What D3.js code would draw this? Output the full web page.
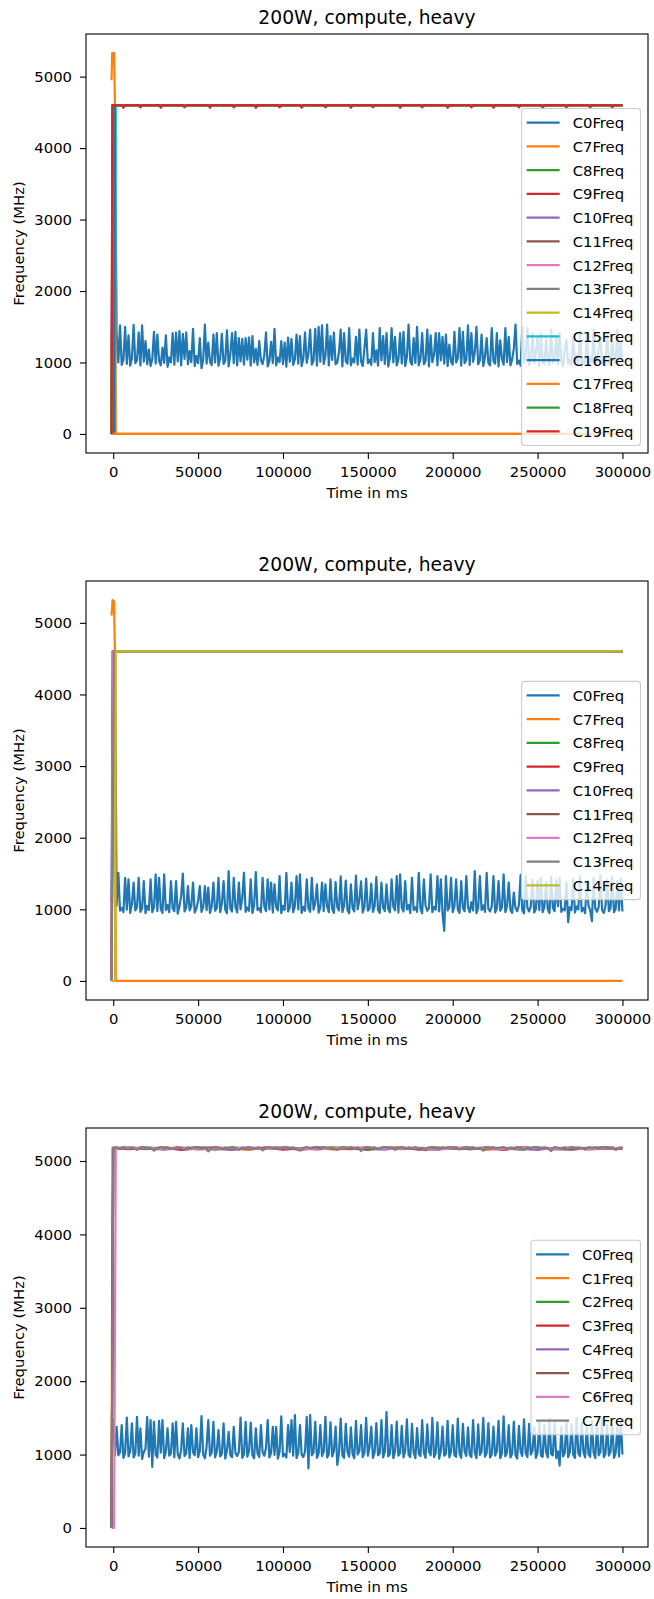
<!DOCTYPE html>
<html>
<head>
<meta charset="utf-8">
<script src="https://cdnjs.cloudflare.com/ajax/libs/d3/7.8.5/d3.min.js"></script>
<style>
  body { margin: 0; background: #fff; }
  svg { display: block; }
  text { font-family: "DejaVu Sans", sans-serif; fill: #000; }
</style>
</head>
<body>
<svg id="fig" width="654" height="1599"></svg>
<script>
// ---------- shared chart text and ticks ----------
const titleText = "200W, compute, heavy";
const xLabelText = "Time in ms";
const yLabelText = "Frequency (MHz)";
const xTicks = [0, 50000, 100000, 150000, 200000, 250000, 300000];
const yTicks = [0, 1000, 2000, 3000, 4000, 5000];
const SAMPLE_MS = 1000;          // logger sampling interval for the C0 trace
const GREY_SAMPLE_MS = 2000;     // sampling of the thinned C7 trace in run 3
const SPARSE_SAMPLE_MS = 10000;  // sampling of thinned traces C1..C6 in run 3

// ---------- run 1 : cores C0, C7..C19 ----------
const run1Cores = ["C0Freq","C7Freq","C8Freq","C9Freq","C10Freq","C11Freq","C12Freq","C13Freq","C14Freq","C15Freq","C16Freq","C17Freq","C18Freq","C19Freq"];
const run1C0Head = [[-1000, 1100], [0, 4600], [1000, 4600]];
const run1C0 = [ // t = 2000 .. 300000 ms
  1410,1000,1520,965,1040,1500,980,1380,955,1060,
  1525,990,1030,1420,960,1520,1010,1300,975,1180,
  950,1045,1430,985,1390,1020,960,1210,995,1380,
  940,1070,1000,1410,970,1420,1015,1440,960,1400,
  1050,1420,975,1160,1005,1470,950,1090,990,1340,
  920,1035,1530,985,1280,1010,965,1390,1000,1410,
  955,1060,1400,980,1025,1450,945,1120,1410,990,
  1430,960,1340,1015,1330,970,1340,1040,1350,955,
  1370,1000,1190,965,1300,1030,980,1100,1420,945,
  1020,1290,990,1470,960,1070,1005,1300,975,1280,
  940,1350,1010,1330,965,1045,1390,985,1370,950,
  1060,1420,995,1130,1460,970,1025,1470,955,1500,
  1010,1520,980,1090,1530,960,1370,1035,1420,975,
  1000,1150,1460,945,1410,1020,985,1480,960,1055,
  1000,1360,970,1460,1015,950,1200,1460,990,1040,
  965,1410,1005,1170,955,1480,1030,1370,980,1410,
  945,1065,1480,1000,1360,960,1040,1410,985,1430,
  950,1080,1530,1010,970,1340,995,1500,960,1050,
  1410,975,1020,1460,945,1380,1005,1110,1410,960,
  1410,1030,1360,985,1390,950,1250,1015,970,1430,
  1000,1060,1480,955,1430,990,1040,1520,965,1410,
  1010,1140,1500,975,1030,1390,950,1075,1340,995,
  960,1480,1020,985,1410,945,1310,1050,970,1480,
  1005,1360,960,1040,1190,1530,980,1025,955,1500,
  1000,1090,1480,965,1035,1410,990,1150,1360,950,
  1410,1015,975,1320,1045,960,1460,995,1060,1360,
  970,1410,1020,950,1180,1320,985,1040,960,1360,
  1005,1100,975,1430,945,1030,990,1410,960,1070,
  1000,1460,965,1020,1200,1360,980,1045,955,1410,
  1010,970,1360,1035,985,1460,960,1300,1000
];
const run1C7 = [[-1000, 4950], [-600, 5330], [500, 5330], [1000, 4600], [1500, 0], [300000, 0]];
const run1C8 = [[-1000, 0], [0, 4600], [300000, 4600]];
const run1C9 = [[-1000, 0], [-500, 4600], [300000, 4600]];
const run1C10 = [[-1000, 0], [0, 4600], [300000, 4600]];
const run1C11 = [[-1000, 0], [0, 4600], [300000, 4600]];
const run1C12 = [[-1000, 0], [0, 4600], [300000, 4600]];
const run1C13 = [[-1000, 0], [500, 0], [1000, 4600], [300000, 4600]];
const run1C14 = [[-1000, 0], [0, 4600], [300000, 4600]];
const run1C15 = [[-1000, 0], [1000, 0], [1500, 4600], [300000, 4600]];
const run1C16 = [[-1000, 0], [500, 0], [1000, 4600], [300000, 4600]];
const run1C17 = [[-1000, 0], [300000, 0]];
const run1C18 = [[-1000, 0], [0, 4600], [300000, 4600]];
const run1C19 = [
  [-1000, 0], [-500, 4600],
  [5000, 4600], [6000, 4565], [7000, 4600],
  [15000, 4600], [16000, 4570], [17000, 4600],
  [27000, 4600], [28000, 4565], [29000, 4600],
  [41000, 4600], [42000, 4570], [43000, 4600],
  [56000, 4600], [57000, 4565], [58000, 4600],
  [70000, 4600], [71000, 4570], [72000, 4600],
  [83000, 4600], [84000, 4565], [85000, 4600],
  [97000, 4600], [98000, 4570], [99000, 4600],
  [110000, 4600], [111000, 4565], [112000, 4600],
  [124000, 4600], [125000, 4570], [126000, 4600],
  [139000, 4600], [140000, 4565], [141000, 4600],
  [152000, 4600], [153000, 4570], [154000, 4600],
  [168000, 4600], [169000, 4565], [170000, 4600],
  [181000, 4600], [182000, 4570], [183000, 4600],
  [196000, 4600], [197000, 4565], [198000, 4600],
  [210000, 4600], [211000, 4570], [212000, 4600],
  [223000, 4600], [224000, 4565], [225000, 4600],
  [238000, 4600], [239000, 4570], [240000, 4600],
  [252000, 4600], [253000, 4565], [254000, 4600],
  [266000, 4600], [267000, 4570], [268000, 4600],
  [280000, 4600], [281000, 4565], [282000, 4600],
  [293000, 4600], [294000, 4570], [295000, 4600],
  [300000, 4600]
];

// ---------- run 2 : cores C0, C7..C14 ----------
const run2Cores = ["C0Freq","C7Freq","C8Freq","C9Freq","C10Freq","C11Freq","C12Freq","C13Freq","C14Freq"];
const run2C0Head = [[-1000, 1100], [0, 4600], [1000, 4600]];
const run2C0 = [ // t = 2000 .. 300000 ms
  1050,1511,980,1020,960,1441,995,1418,950,1070,
  1372,985,1030,1441,965,1010,1395,945,1050,990,
  1418,960,1030,1487,975,1441,1005,950,1487,990,
  1060,960,1395,1015,975,1395,940,1040,1180,1500,
  970,1020,1325,985,1045,1372,955,1010,1120,1325,
  965,1030,1325,990,1302,950,1040,1372,980,1015,
  1441,960,1080,1395,995,945,1533,1010,970,1441,
  1035,955,1372,1000,1150,1511,965,1025,980,1418,
  950,1060,1520,990,1015,960,1441,1040,975,1418,
  1000,1372,955,1348,1030,985,1464,945,1050,990,
  1511,970,1020,1372,960,1045,1464,1000,1487,950,
  1035,980,1418,1010,965,1441,995,1090,1348,955,
  1025,1372,975,1348,1040,960,1420,1005,950,1380,
  1030,985,1460,960,1055,1400,990,945,1350,1020,
  970,1470,1000,1130,1390,955,1035,1430,980,1010,
  1360,965,1045,1450,990,950,1372,1025,975,1349,
  1005,960,1418,1040,985,1464,955,1487,1020,970,
  1395,1000,1060,950,1441,990,1030,965,1510,1010,
  945,1418,1050,980,1020,1487,960,1035,995,1464,
  970,1418,940,700,1464,985,1025,1441,960,1040,
  1418,995,950,1395,1015,975,1464,1030,960,1100,
  985,1533,945,1020,1464,990,1055,965,1510,1005,
  970,1040,1464,955,1010,1395,980,1030,1487,960,
  1045,1372,990,950,1233,1015,975,1060,1480,985,
  945,1460,1025,970,1040,1420,955,1005,1400,990,
  1440,960,1035,1380,1000,950,1450,1020,975,1410,
  1045,1440,965,1010,985,1380,820,1030,990,1420,
  955,1040,1000,1460,970,1020,945,1400,1050,985,
  835,1440,1010,965,1035,1470,990,950,1045,1410,
  975,1020,1450,960,1005,1390,985,1430,970
];
const run2C7 = [[-1000, 5100], [-400, 5318], [400, 5300], [1000, 4600], [1500, 0], [300000, 0]];
const run2C8 = [[-1000, 0], [0, 4600], [300000, 4600]];
const run2C9 = [[-1000, 0], [0, 4600], [300000, 4600]];
const run2C10 = [[-1000, 0], [-500, 4600], [300000, 4600]];
const run2C11 = [[-1000, 0], [0, 4600], [300000, 4600]];
const run2C12 = [[-1000, 0], [0, 4600], [300000, 4600]];
const run2C13 = [[-1000, 0], [500, 4600], [300000, 4600]];
const run2C14 = [[-1000, 0], [1000, 0], [1500, 4600], [300000, 4600]];

// ---------- run 3 : cores C0..C7 ----------
const run3Cores = ["C0Freq","C1Freq","C2Freq","C3Freq","C4Freq","C5Freq","C6Freq","C7Freq"];
const run3C0Head = [[-1000, 1480], [0, 1480], [1000, 990]];
const run3C0 = [ // t = 2000 .. 300000 ms
  1378,990,1030,1401,955,1020,1505,975,1045,1424,
  960,1010,1515,985,1356,940,1035,1080,1515,970,
  1469,830,1447,1000,960,1458,1025,1469,950,1040,
  1356,985,1015,1424,960,1447,1005,945,1060,1424,
  980,1020,1356,955,1401,1030,990,1356,965,1045,
  1524,1000,950,1110,1469,985,1025,1447,960,1040,
  1333,975,1010,1424,945,1055,1310,990,965,1378,
  1020,980,1035,1505,955,1000,1447,970,1045,1435,
  990,950,1356,1015,965,1401,1030,985,1090,1469,
  960,1020,1378,995,1378,945,1040,1520,975,1010,
  960,1401,1035,1469,985,1537,950,1025,1401,1000,
  965,1045,1515,810,1537,990,1030,1447,955,1015,
  1401,980,1040,1515,960,1005,1440,975,1050,1380,
  860,1020,1490,990,955,1420,1035,970,1370,1010,
  950,1460,1000,1045,1400,965,1025,1500,985,1100,
  1380,955,1030,1430,990,1015,1470,960,1040,1580,
  975,1005,1400,950,1035,1450,985,1020,1390,960,
  1045,1480,995,965,1420,1030,950,1360,1010,980,
  1470,1025,955,1410,1040,990,1500,965,1020,1440,
  945,1050,1380,985,1010,1460,960,1035,1400,990,
  970,1490,1015,955,1420,1045,980,1370,1000,965,
  1470,1030,950,1410,995,1040,1500,970,1020,1430,
  960,1005,1380,985,1045,1460,950,1015,1520,975,
  1030,1400,960,1010,1450,990,945,1390,1040,980,
  1480,1020,965,1420,1000,1050,1370,955,1025,1460,
  985,970,1400,1035,960,1490,1010,990,1430,950,
  1045,850,1380,975,1020,1470,965,1030,1410,995,
  955,1500,1015,980,1440,1040,960,1380,1005,970,
  1460,1025,950,1420,990,1035,1490,965,1010,1400,
  985,1045,1450,955,1020,1390,975,1470,1000
];
const run3C1Head = [[-1000, 0], [-500, 5175]];
const run3C1 = [5180,5165,5185,5170,5160,5180,5175,5150,5185,5170,5165,5180,5155,5175,5185,5170,5160,5180,5175,5165,5185,5150,5175,5180,5165,5170,5185,5160,5175,5180];
const run3C2Head = [[-1000, 0], [0, 5175]];
const run3C2 = [5170,5185,5160,5175,5180,5155,5185,5170,5165,5180,5175,5160,5185,5170,5150,5180,5175,5165,5185,5170,5160,5180,5175,5155,5185,5170,5165,5180,5175,5170];
const run3C3Head = [[-1000, 0], [0, 5175]];
const run3C3 = [5160,5175,5180,5150,5170,5185,5165,5175,5180,5155,5170,5185,5175,5160,5180,5170,5185,5155,5165,5180,5175,5170,5150,5185,5175,5160,5180,5170,5165,5175];
const run3C4Head = [[-1000, 0], [0, 5175]];
const run3C4 = [5185,5170,5155,5180,5175,5165,5150,5185,5170,5175,5160,5180,5170,5185,5165,5155,5180,5175,5170,5185,5160,5175,5180,5165,5150,5180,5175,5170,5185,5165];
const run3C5Head = [[-1000, 0], [0, 5175]];
const run3C5 = [5175,5160,5180,5170,5185,5175,5160,5165,5180,5185,5150,5175,5170,5180,5160,5185,5175,5165,5155,5180,5170,5185,5165,5175,5180,5160,5155,5175,5185,5170];
const run3C6Head = [[-1000, 0], [500, 0], [1500, 5175]];
const run3C6 = [5180,5175,5165,5185,5155,5170,5180,5175,5160,5185,5170,5155,5180,5175,5185,5165,5170,5180,5150,5175,5185,5170,5160,5180,5175,5165,5185,5155,5170,5180];
const run3C7Head = [[-1000, 0], [0, 5185]];
const run3C7 = [ // t = 2000 .. 300000 ms, every 2 s
  5185,5170,5190,5160,5180,5175,5150,5185,5190,5165,
  5180,5140,5175,5190,5170,5185,5160,5180,5190,5175,
  5155,5185,5170,5190,5180,5165,5185,5130,5175,5190,
  5180,5160,5185,5175,5190,5170,5150,5185,5180,5190,
  5165,5175,5185,5145,5180,5190,5170,5185,5160,5180,
  5190,5175,5185,5165,5140,5180,5190,5170,5185,5175,
  5160,5190,5180,5185,5170,5150,5185,5190,5175,5180,
  5165,5185,5135,5180,5190,5170,5185,5160,5180,5190,
  5175,5185,5150,5180,5190,5165,5185,5175,5190,5170,
  5180,5145,5185,5190,5175,5160,5185,5180,5190,5170,
  5185,5155,5180,5190,5175,5185,5165,5180,5140,5190,
  5175,5185,5170,5180,5190,5160,5185,5175,5190,5180,
  5150,5185,5170,5190,5180,5165,5185,5175,5135,5190,
  5180,5170,5185,5160,5190,5175,5185,5180,5155,5190,
  5175,5185,5165,5180,5190,5170,5185,5150,5180,5185
];

// evenly sampled trace -> [t, value] points, preceded by its start-up points
function sampled(head, startMs, stepMs, values) {
  return head.concat(values.map((v, i) => [startMs + i * stepMs, v]));
}

const runs = [
  {
    cores: run1Cores, legendLoc: "lower right", top: 34,
    series: [
      sampled(run1C0Head, 2000, SAMPLE_MS, run1C0),
      run1C7, run1C8, run1C9, run1C10, run1C11, run1C12, run1C13,
      run1C14, run1C15, run1C16, run1C17, run1C18, run1C19
    ]
  },
  {
    cores: run2Cores, legendLoc: "center right", top: 581,
    series: [
      sampled(run2C0Head, 2000, SAMPLE_MS, run2C0),
      run2C7, run2C8, run2C9, run2C10, run2C11, run2C12, run2C13, run2C14
    ]
  },
  {
    cores: run3Cores, legendLoc: "center right", top: 1128,
    series: [
      sampled(run3C0Head, 2000, SAMPLE_MS, run3C0),
      sampled(run3C1Head, SPARSE_SAMPLE_MS, SPARSE_SAMPLE_MS, run3C1),
      sampled(run3C2Head, SPARSE_SAMPLE_MS, SPARSE_SAMPLE_MS, run3C2),
      sampled(run3C3Head, SPARSE_SAMPLE_MS, SPARSE_SAMPLE_MS, run3C3),
      sampled(run3C4Head, SPARSE_SAMPLE_MS, SPARSE_SAMPLE_MS, run3C4),
      sampled(run3C5Head, SPARSE_SAMPLE_MS, SPARSE_SAMPLE_MS, run3C5),
      sampled(run3C6Head, SPARSE_SAMPLE_MS, SPARSE_SAMPLE_MS, run3C6),
      sampled(run3C7Head, 2000, GREY_SAMPLE_MS, run3C7)
    ]
  }
];

// ---------- layout ----------
const AX_LEFT = 86, AX_RIGHT = 648, AX_H = 419;
const FS = 14.8, TITLE_FS = 18.7, LW = 2.2;
const palette = d3.schemeCategory10;
const svg = d3.select("#fig");

// matplotlib-style 5% data margins
function padded(ext) {
  const m = (ext[1] - ext[0]) * 0.05;
  return [ext[0] - m, ext[1] + m];
}

runs.forEach((run, ri) => {
  const top = run.top, bottom = top + AX_H;
  const allPts = run.series.flat();
  const x = d3.scaleLinear().domain(padded(d3.extent(allPts, d => d[0]))).range([AX_LEFT, AX_RIGHT]);
  const y = d3.scaleLinear().domain(padded(d3.extent(allPts, d => d[1]))).range([bottom, top]);

  const g = svg.append("g");
  const clipId = "clip" + ri;
  g.append("clipPath").attr("id", clipId)
    .append("rect").attr("x", AX_LEFT).attr("y", top).attr("width", AX_RIGHT - AX_LEFT).attr("height", AX_H);

  const line = d3.line().x(d => x(d[0])).y(d => y(d[1]));
  g.append("g").attr("clip-path", `url(#${clipId})`)
    .selectAll("path").data(run.series).join("path")
    .attr("d", line)
    .attr("fill", "none")
    .attr("stroke", (d, i) => palette[i % 10])
    .attr("stroke-width", LW)
    .attr("stroke-linejoin", "round")
    .attr("stroke-linecap", "butt");

  // axes frame
  g.append("rect").attr("x", AX_LEFT).attr("y", top).attr("width", AX_RIGHT - AX_LEFT).attr("height", AX_H)
    .attr("fill", "none").attr("stroke", "#000").attr("stroke-width", 1.1);

  const yAxis = g.append("g").attr("transform", `translate(${AX_LEFT},0)`)
    .call(d3.axisLeft(y).tickValues(yTicks).tickSize(6).tickPadding(8).tickFormat(d3.format("d")));
  const xAxis = g.append("g").attr("transform", `translate(0,${bottom})`)
    .call(d3.axisBottom(x).tickValues(xTicks).tickSize(6).tickPadding(7).tickFormat(d3.format("d")));
  [yAxis, xAxis].forEach(a => {
    a.select(".domain").remove();
    a.attr("font-family", "DejaVu Sans, sans-serif").attr("font-size", FS);
    a.selectAll(".tick line").attr("stroke", "#000").attr("stroke-width", 1.1);
    a.selectAll(".tick text").attr("fill", "#000");
  });

  // title and axis labels
  const cx = (AX_LEFT + AX_RIGHT) / 2;
  g.append("text").attr("x", cx).attr("y", top - 10).attr("text-anchor", "middle")
    .attr("font-size", TITLE_FS).text(titleText);
  g.append("text").attr("x", cx).attr("y", bottom + 45).attr("text-anchor", "middle")
    .attr("font-size", FS).text(xLabelText);
  g.append("text").attr("transform", `translate(24,${top + AX_H / 2}) rotate(-90)`)
    .attr("text-anchor", "middle").attr("font-size", FS).text(yLabelText);

  // legend
  const n = run.cores.length;
  const ROW = 23.75, PADV = 14;
  const boxH = n * ROW + 4.45;
  const boxRight = AX_RIGHT - 7.5;
  const boxTop = run.legendLoc === "lower right" ? bottom - 7.5 - boxH : top + AX_H / 2 - boxH / 2;
  const leg = g.append("g");
  const frame = leg.append("rect");
  const items = leg.selectAll("g.item").data(run.cores).join("g").attr("class", "item");
  const labels = items.append("text").attr("font-size", FS).attr("dominant-baseline", "central")
    .attr("y", (d, i) => boxTop + PADV + i * ROW).text(d => d);
  const maxW = d3.max(labels.nodes(), nd => nd.getComputedTextLength());
  const boxW = 51 + maxW + 7;
  const boxLeft = boxRight - boxW;
  frame.attr("x", boxLeft).attr("y", boxTop).attr("width", boxW).attr("height", boxH)
    .attr("rx", 3).attr("ry", 3)
    .attr("fill", "#fff").attr("fill-opacity", 0.8)
    .attr("stroke", "#cccccc").attr("stroke-width", 1.1);
  labels.attr("x", boxLeft + 51);
  items.append("line")
    .attr("x1", boxLeft + 5).attr("x2", boxLeft + 38)
    .attr("y1", (d, i) => boxTop + PADV + i * ROW).attr("y2", (d, i) => boxTop + PADV + i * ROW)
    .attr("stroke", (d, i) => palette[i % 10]).attr("stroke-width", LW);
});
</script>
</body>
</html>
